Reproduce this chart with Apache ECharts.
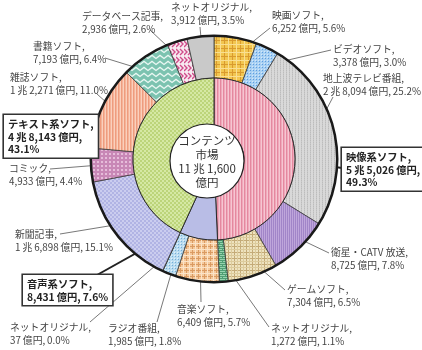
<!DOCTYPE html>
<html><head><meta charset="utf-8">
<script src="https://cdn.jsdelivr.net/npm/echarts/dist/echarts.min.js"></script>
<style>html,body{margin:0;padding:0;background:#fff}#c{width:422px;height:350px}</style>
</head><body><div id="c"></div>
<script>
// ---- data ----
const totalValue = 111600; // 億円
const centerTitle = ['コンテンツ', '市場'];
const outerNames = ['映画ソフト','ビデオソフト','地上波テレビ番組','衛星・CATV 放送','ゲームソフト','ネットオリジナル',
  '音楽ソフト','ラジオ番組','ネットオリジナル',
  '新聞記事','コミック','雑誌ソフト','書籍ソフト','データベース記事','ネットオリジナル'];
const outerValues = [6252,3378,28094,8725,7304,1272, 6409,1985,37, 16898,4933,12271,7193,2936,3912];
const innerNames = ['映像系ソフト','音声系ソフト','テキスト系ソフト'];
const innerValues = [55026,8431,48143];

// ---- layout (label text position x,y and leader attach point) ----
const outerLabelPos = [[272,9,270,28],[333,43,331,50],[323,72,333,97],[331,246,329,253],[287,283,285,290],[271,322,269,327],
  [177,303,201,302],[108,322,157,322],[10,321,90,322],
  [15,228,60,234],[9,162,50,169],[10,71,97,94],[33,40,105,58],[82,10,150,30],[171,1,200,27]];
const innerLabelPos = [[342,148,342,168],[23,275,97,275],[4,115,86,132]];
const innerThreeLines = [true,false,true];

// ---- patterns ----
function pattern(w,h,draw){const c=document.createElement('canvas');c.width=w;c.height=h;const g=c.getContext('2d');draw(g);return {image:c,repeat:'repeat'};}
function R(g,col,x,y,w,h){g.fillStyle=col;g.fillRect(x,y,w,h);}
function stripes(cols){return pattern(cols.length,1,g=>cols.forEach((c,i)=>R(g,c,i,0,1,1)));}
function solid(c){return c;}
const outerColors = [
  pattern(8,8,g=>{R(g,'#f2c650',0,0,8,8);R(g,'#d99a2e',0,0,1,8);R(g,'#d99a2e',0,0,8,1);R(g,'#f9df92',4,0,1,8);R(g,'#f9df92',0,4,8,1);}),
  pattern(3,3,g=>{R(g,'#a9d1f3',0,0,3,3);R(g,'#5f9ee0',1,1,1,1);R(g,'#d4e8fa',0,0,1,1);}),
  pattern(3,2,g=>{R(g,'#d9d9d9',0,0,3,2);R(g,'#bcbcbc',1,0,1,1);R(g,'#c9c9c9',1,1,1,1);}),
  stripes(['#bfa6db','#a185c8']),
  pattern(6,6,g=>{R(g,'#eee3bf',0,0,6,6);R(g,'#c4ab78',0,0,6,1);R(g,'#c4ab78',0,0,1,6);R(g,'#dccb9c',3,0,1,6);R(g,'#dccb9c',0,3,6,1);}),
  pattern(6,4,g=>{R(g,'#96d3ae',0,0,6,4);R(g,'#4f9e74',0,0,6,1);R(g,'#4f9e74',0,2,6,1);R(g,'#4f9e74',0,0,1,2);R(g,'#4f9e74',3,2,1,2);}),
  pattern(6,6,g=>{R(g,'#f5c99c',0,0,6,6);R(g,'#da9a62',0,0,6,1);R(g,'#da9a62',0,0,1,6);R(g,'#fbe3c8',3,0,1,6);R(g,'#fbe3c8',0,3,6,1);}),
  pattern(3,3,g=>{R(g,'#badcf0',0,0,3,3);R(g,'#75aed8',1,1,1,1);R(g,'#e2f0fa',0,0,1,1);}),
  solid('#9cc6e6'),
  pattern(4,4,g=>{R(g,'#cbcdef',0,0,4,4);R(g,'#b1b4e4',0,0,2,2);R(g,'#b1b4e4',2,2,2,2);}),
  pattern(4,4,g=>{R(g,'#c887b6',0,0,4,4);R(g,'#e6bcda',1,1,2,2);}),
  stripes(['#fad0bd','#ee9c7e','#f5b499']),
  pattern(8,6,g=>{R(g,'#7cc3b0',0,0,8,6);g.strokeStyle='#eaf7f2';g.lineWidth=1.3;g.beginPath();g.moveTo(-0.5,1);g.lineTo(4,4.5);g.lineTo(8.5,1);g.stroke();}),
  pattern(8,8,g=>{R(g,'#f7e9f0',0,0,8,8);g.strokeStyle='#d04c8a';g.lineWidth=1.4;g.beginPath();g.moveTo(0,1);g.lineTo(3,4);g.lineTo(0,7);g.moveTo(4,1);g.lineTo(7,4);g.lineTo(4,7);g.stroke();}),
  solid('#c9c9c9')
];
const innerColors = [
  stripes(['#f6c6d2','#e4889f','#f0a9bb']),
  solid('#b9bde6'),
  pattern(4,4,g=>{R(g,'#d5e8a4',0,0,4,4);R(g,'#bcd47a',0,0,2,2);R(g,'#bcd47a',2,2,2,2);})
];

const SP = '\u2009'; // thin space
function fmtYen(v){
  const s = n => n.toLocaleString('en-US');
  if (v >= 10000) { const r = v % 10000; return Math.floor(v/10000) + SP + '兆' + SP + s(r) + SP + '億円'; }
  return s(v) + SP + '億円';
}
function pct(v){ return (v/totalValue*100).toFixed(1) + '%'; }

const FONT = '"Noto Sans CJK JP",sans-serif';
const chart = echarts.init(document.getElementById('c'), null, {renderer:'canvas', width:422, height:350});

function anchorFor(params, frac){
  try {
    const d = chart.getModel().getSeriesByIndex(params.seriesIndex).getData();
    const l = d.getItemLayout(params.dataIndex);
    const a = (l.startAngle + l.endAngle)/2;
    const r = l.r0 + (l.r - l.r0)*frac;
    return [l.cx + r*Math.cos(a), l.cy + r*Math.sin(a)];
  } catch(e) {
    return params.labelLinePoints ? params.labelLinePoints[0] : [params.rect.x+params.rect.width/2, params.rect.y+params.rect.height/2];
  }
}
function makeLayout(posArr, frac){
  return function(params){
    const p = posArr[params.dataIndex];
    const a = anchorFor(params, frac);
    return {x:p[0], y:p[1], align:'left', verticalAlign:'top', labelLinePoints:[a,[p[2],p[3]],[p[2],p[3]]]};
  };
}

const CENTER = [214,159];
chart.setOption({
  animation:false,
  backgroundColor:'#fff',
  series:[
    {
      type:'pie', silent:true, center:CENTER, radius:[81,123], startAngle:90, clockwise:true,
      avoidLabelOverlap:false, emphasis:{scale:false},
      itemStyle:{borderColor:'#3a3a3a', borderWidth:0.8},
      label:{show:true, position:'outside', color:'#444', fontSize:9.8, lineHeight:13, fontFamily:FONT,
        formatter: p => p.name + ',\n' + fmtYen(p.value) + ',' + SP + pct(p.value)},
      labelLine:{show:true, lineStyle:{color:'#555', width:0.8}},
      labelLayout: makeLayout(outerLabelPos, 0.5),
      data: outerNames.map((n,i)=>({name:n, value:outerValues[i], itemStyle:{color:outerColors[i]}}))
    },
    {
      type:'pie', silent:true, center:CENTER, radius:[122,124.5], startAngle:90,
      label:{show:false}, labelLine:{show:false}, emphasis:{scale:false},
      itemStyle:{color:'#1a1a1a', borderWidth:0},
      data:[{name:'', value:totalValue}]
    },
    {
      type:'pie', silent:true, center:CENTER, radius:[30,81], startAngle:90, clockwise:true,
      avoidLabelOverlap:false, emphasis:{scale:false},
      itemStyle:{borderColor:'#2a2a2a', borderWidth:1},
      label:{show:true, position:'outside', color:'#222', fontSize:10.3, fontWeight:'bold', lineHeight:12.5, fontFamily:FONT,
        backgroundColor:'#fff', borderColor:'#333', borderWidth:1.6, padding:[3,4,2,4],
        formatter: p => {
          const i = p.dataIndex;
          return innerThreeLines[i] ? (p.name + ',\n' + fmtYen(p.value) + ',\n' + pct(p.value))
                                    : (p.name + ',\n' + fmtYen(p.value) + ',' + SP + pct(p.value));
        }},
      labelLine:{show:true, lineStyle:{color:'#222', width:2}},
      labelLayout: makeLayout(innerLabelPos, 0.55),
      data: innerNames.map((n,i)=>({name:n, value:innerValues[i], itemStyle:{color:innerColors[i]}}))
    }
  ],
  graphic:[
    {type:'circle', z:100, shape:{cx:207, cy:161, r:37}, style:{fill:'#fff', stroke:'#222', lineWidth:1.2}},
    {type:'text', z:101, x:207, y:162, style:{
      text: centerTitle.concat([fmtYen(totalValue).replace(SP+'億円',''), '億円']).join('\n'),
      align:'center', verticalAlign:'middle', fill:'#333', font:'11.5px '+FONT, lineHeight:14}}
  ]
});
</script>
</body></html>
